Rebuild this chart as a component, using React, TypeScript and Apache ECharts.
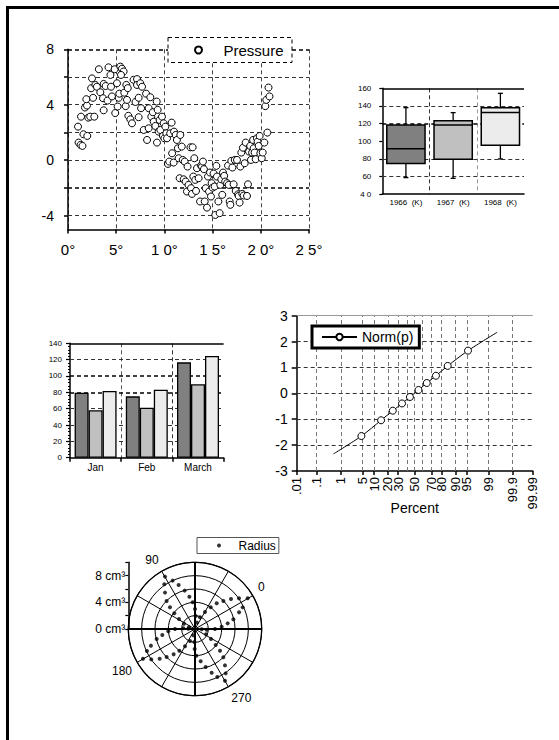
import { useEffect, useRef } from 'react';
import * as echarts from 'echarts';

// ---------- Scatter (Pressure) ----------
const pressureX = [1.04,1.1,1.3,1.5,1.35,1.6,2.0,1.76,1.97,1.9,2.1,2.3,2.4,2.49,2.6,2.73,2.84,3.0,3.2,3.35,3.63,3.7,3.7,3.9,4.1,4.2,4.4,4.46,4.56,4.84,4.9,5.08,5.15,5.26,5.43,5.6,5.77,5.5,5.32,5.84,5.98,6.05,6.12,6.2,6.26,6.47,6.64,6.8,7.0,7.16,7.16,7.33,7.33,7.5,7.68,7.58,7.85,8.1,8.2,8.37,8.54,8.37,8.64,8.8,8.89,9.06,9.2,9.23,9.3,9.4,9.5,9.58,9.75,9.85,9.92,10.0,10.1,10.2,10.27,10.37,10.5,10.6,10.75,10.8,10.96,11.0,11.17,11.3,11.4,11.48,11.58,11.65,11.8,11.9,12.0,12.1,12.2,12.34,12.4,12.5,12.7,12.76,12.86,12.93,13.0,13.1,13.2,13.28,13.38,13.55,13.7,13.8,13.9,14.0,14.1,14.18,14.28,14.42,14.52,14.63,14.73,14.83,14.9,15.0,15.1,15.21,15.28,15.39,15.45,15.6,15.73,15.8,15.9,16.0,16.08,16.2,16.3,16.5,16.6,16.67,16.77,16.84,16.94,17.05,17.18,17.3,17.4,17.53,17.64,17.7,17.8,17.88,17.98,18.08,18.15,18.22,18.33,18.43,18.57,18.67,18.78,18.9,18.98,19.1,19.2,19.26,19.36,19.47,19.6,19.67,19.78,19.88,19.95,20.1,20.2,20.37,20.47,20.57,20.68,20.8,20.9];
const pressureY = [2.42,1.27,1.1,1.03,3.14,1.87,1.75,3.8,3.94,4.4,3.07,3.14,5.19,5.9,4.5,3.14,5.43,5.3,6.56,4.9,4.47,3.6,5.5,5.35,4.3,6.7,6.15,5.3,4.6,6.56,3.4,5.55,3.87,4.5,6.75,6.6,6.4,6.15,4.8,4.87,3.9,5.43,4.35,5.2,3.2,2.95,2.66,5.8,4.2,5.85,5.43,4.5,3.1,5.55,5.3,3.75,2.18,4.8,1.46,3.75,4.54,2.3,3.14,3.46,2.78,2.47,4.23,1.27,3.63,2.06,2.9,2.18,3.14,1.75,2.66,1.58,2.42,1.94,1.58,-0.27,-0.1,1.94,2.71,0.5,-0.17,2.06,1.82,1.46,0.86,0.14,-1.3,1.82,0.98,0.02,-1.38,-0.1,-1.54,-2.26,-0.46,-1.78,0.93,-2.02,-2.43,0.93,-1.18,0.14,-1.42,-2.22,-0.58,-1.3,-2.98,-0.39,-0.46,-0.1,-0.65,-2.98,-2.02,-3.42,-1.18,-2.26,-0.89,-2.62,-1.66,-1.98,-0.96,-1.9,-3.95,-0.41,-1.18,-2.98,-3.82,-1.78,-1.38,-2.5,-0.89,-1.13,-1.54,-1.66,-0.39,-1.78,-2.98,-3.22,-0.05,-0.53,-1.74,0.02,-2.22,0.02,-2.46,-2.58,-3.06,-0.46,0.55,-2.43,0.9,-2.55,-0.22,1.27,-2.58,-1.74,0.62,1.03,0.02,0.55,1.46,0.86,0.55,0.07,1.58,1.34,1.03,1.75,0.5,0.14,0.55,1.27,3.9,4.35,1.99,5.24,4.6];
const scatterXTicks = [0, 5, 10, 15, 20, 25];
const scatterXTickLabels = ['0°', '5°', '1 0°', '1 5°', '2 0°', '2 5°'];
const scatterYTicks = [-4, -2, 0, 2, 4, 6, 8];
const scatterYLabelTicks = [-4, 0, 4, 8];
const scatterGridY = [-4, -2, 0, 2, 4, 6, 8];
const scatterStrongGridY = [-2, 8];

// ---------- Box plot ----------
const boxYears = ['1966  (K)', '1967  (K)', '1968  (K)'];
const boxLow = [58.6, 57.8, 79.8];
const boxQ1 = [74.5, 79.4, 95.3];
const boxMedian = [91.5, 118.4, 132.4];
const boxQ3 = [118.4, 123.3, 138];
const boxHigh = [138, 132.4, 154.3];
const boxYTicks = [40, 60, 80, 100, 120, 140, 160];
const boxYTickLabels = ['4 0', '60', '80', '100', '120', '140', '160'];
const boxGridY = [60, 80, 120, 140];
const boxStrongGridY = [120];
const boxTopY = 160;

// ---------- Bars ----------
const months = ['Jan', 'Feb', 'March'];
const barDark = [79.6, 75.1, 116.7];
const barMid = [58, 61.2, 89.8];
const barLight = [81.6, 83.3, 124.5];
const barGridY = [20, 40, 60, 80, 100, 120];
const barStrongGridY = [80, 100];
const barTopY = 140;

// ---------- Normal probability ----------
const normPercentLabels = ['.01', '.1', '1', '5', '10', '20', '30', '50', '70', '80', '90', '95', '99', '99.9', '99.99'];
const normPercentZ = [-3.719, -3.09, -2.326, -1.645, -1.282, -0.842, -0.524, 0, 0.524, 0.842, 1.282, 1.645, 2.326, 3.09, 3.719];
const normGridZ = [-3.09, -2.326, -1.645, -1.282, -0.842, -0.524, -0.253, 0, 0.253, 0.524, 0.842, 1.282, 1.645, 2.326, 3.09];
const normMarkerX = [-1.68, -1.06, -0.69, -0.4, -0.15, 0.12, 0.38, 0.67, 1.04, 1.68];
const normMarkerY = [-1.65, -1.04, -0.67, -0.39, -0.14, 0.13, 0.4, 0.68, 1.06, 1.65];
const normLineStart = [-2.56, -2.34];
const normLineEnd = [2.6, 2.36];
const normGridY = [-2, -1, 0, 1, 2];

// ---------- Polar ----------
const polarRadius = [9.05,8.13,7.07,5.98,4.96,3.89,2.83,1.83,0.93, 7.99,7.04,5.96,4.92,4.02,3.0,1.95,1.0, 9.14,8.04,7.03,5.98,5.04,4.01,2.96,1.9, 7.85,7.06,5.93,4.97,4.02,3.0,1.75,1.0, 8.96,8.09,7.07,6.01,4.96,3.92,2.83,1.83, 7.94,7.01,5.92,4.92,4.0,3.0,1.95,0.98, 8.98,7.98,6.92,5.98,4.97,4.01,3.0,1.95, 7.92,7.06,5.94,4.98,4.02,3.0,1.75,1.0];
const polarAngle = [89.8,94.5,99.5,105.3,109.1,112.8,118,124.1,134.5, 84.8,80.4,75.1,69.9,65,60,57,42.5, 0.2,4.9,9.8,14.7,19.8,24.1,29.5,36.8, 354.4,350.7,344.2,339.8,335,330,326.7,327, 270.1,274.7,279.5,285,289.1,292.3,298,304.1, 264.9,260.9,255.7,249.9,242.9,239,237,225, 179.7,184.8,190,194.7,199.9,204.1,210,217.4, 174.6,170.7,164.6,160.4,155,150,146.7,147];
const polarAngleLabels = [0, 90, 180, 270];
const radiusLabelTicks = [0, 4, 8];
const polarAxisH = [[10, 150], [10, 330]];
const polarAxisV = [[10, 60], [10, 240]];

const FONT = '"Liberation Sans", Arial, Helvetica, sans-serif';
const BLACK = '#000';
const boxFills = ['#808080', '#c0c0c0', '#ececec'];

const blackLine = { show: true, onZero: false, lineStyle: { color: BLACK, width: 1.5 } };
const labelBase = { color: BLACK, fontFamily: FONT };

function gridMark(items: any[]) {
  return {
    silent: true,
    symbol: ['none', 'none'],
    z: 1,
    animation: false,
    label: { show: false },
    emphasis: { disabled: true },
    data: items,
  };
}
const dashed = (color: string, width: number) => ({ color, width, type: [4, 3] as number[] });
const solid = (color: string, width: number) => ({ color, width, type: 'solid' });

function buildOption() {
  const pressureData = pressureX.map((x, i) => [x, pressureY[i]]);
  const boxData = boxYears.map((_, i) => [i, boxLow[i], boxQ1[i], boxMedian[i], boxQ3[i], boxHigh[i]]);
  const normData: any[] = [
    { value: normLineStart, symbol: 'none' },
    ...normMarkerX.map((x, i) => [x, normMarkerY[i]]),
    { value: normLineEnd, symbol: 'none' },
  ];
  const polarData = polarRadius.map((r, i) => [r, polarAngle[i]]);

  return {
    animation: false,
    backgroundColor: '#fff',
    textStyle: { fontFamily: FONT, color: BLACK },
    graphic: [
      {
        type: 'rect', silent: true, z: 100,
        shape: { x: 7.5, y: 7.5, width: 700, height: 900 },
        style: { fill: 'none', stroke: BLACK, lineWidth: 3 },
      },
      {
        type: 'rect', silent: true, z: 15,
        shape: { x: 168, y: 37.5, width: 124, height: 25 },
        style: { fill: '#fff', stroke: BLACK, lineWidth: 1, lineDash: [4, 3] },
      },
    ],
    legend: [
      {
        data: [{ name: 'Pressure', icon: 'circle' }],
        left: 168, top: 37.5, padding: [5, 9, 5, 26],
        itemWidth: 40, itemHeight: 7, selectedMode: false, z: 20,
        textStyle: { fontSize: 15, color: BLACK, fontFamily: FONT },
      },
      {
        data: ['Norm(p)'],
        left: 312, top: 326, padding: [4, 6, 4, 9],
        itemWidth: 35, itemHeight: 8, selectedMode: false, z: 20,
        backgroundColor: '#fff', borderColor: BLACK, borderWidth: 3,
        textStyle: { fontSize: 14, color: BLACK, fontFamily: FONT },
      },
      {
        data: [{ name: 'Radius', icon: 'circle' }],
        left: 197, top: 537.5, padding: [2, 3, 2, 20],
        itemWidth: 29, itemHeight: 4, selectedMode: false, z: 20,
        backgroundColor: '#fff', borderColor: '#555', borderWidth: 1,
        textStyle: { fontSize: 12, color: BLACK, fontFamily: FONT },
      },
    ],
    grid: [
      { left: 68, top: 49.3, width: 241, height: 180.2, outerBoundsMode: 'none', containLabel: false },
      { left: 382.3, top: 88.3, width: 141.7, height: 105.7, outerBoundsMode: 'none', containLabel: false },
      { left: 70, top: 343.3, width: 153.6, height: 114.4, outerBoundsMode: 'none', containLabel: false },
      { left: 296.7, top: 315.7, width: 236, height: 155.3, outerBoundsMode: 'none', containLabel: false },
      { left: 128.3, top: 562.3, width: 4, height: 66.7, outerBoundsMode: 'none', containLabel: false },
    ],
    xAxis: [
      {
        gridIndex: 0, type: 'value', min: 0, max: 25, interval: 5,
        axisLine: blackLine,
        axisTick: { show: true, length: 4, lineStyle: { color: BLACK, width: 1.5 } },
        axisLabel: {
          ...labelBase, fontSize: 15, margin: 12,
          formatter: (v: number) => {
            const i = scatterXTicks.indexOf(Math.round(v));
            return i >= 0 ? scatterXTickLabels[i] : '';
          },
        },
        splitLine: { show: true, lineStyle: dashed('#444', 1) },
      },
      {
        gridIndex: 1, type: 'category', data: boxYears,
        axisLine: blackLine,
        axisTick: { show: false },
        axisLabel: { ...labelBase, fontSize: 8, margin: 4, interval: 0 },
        splitLine: {
          show: true, interval: 0,
          lineStyle: { color: ['rgba(0,0,0,0)', '#333', '#999', 'rgba(0,0,0,0)'], width: 1, type: [4, 3] },
        },
      },
      {
        gridIndex: 2, type: 'category', data: months,
        axisLine: blackLine,
        axisTick: { show: true, length: 4, interval: 0, lineStyle: { color: BLACK, width: 1.5 } },
        axisLabel: { ...labelBase, fontSize: 10, margin: 5, interval: 0 },
        splitLine: {
          show: true, interval: 0,
          lineStyle: { color: ['rgba(0,0,0,0)', '#555', '#333', 'rgba(0,0,0,0)'], width: 1, type: [4, 3] },
        },
      },
      {
        gridIndex: 3, type: 'value', min: -3.719, max: 3.719,
        axisLine: blackLine,
        axisTick: { show: true, length: 4, customValues: normPercentZ, lineStyle: { color: BLACK, width: 1.5 } },
        axisLabel: {
          ...labelBase, fontSize: 13, margin: 6, rotate: 90, customValues: normPercentZ,
          showMinLabel: true, showMaxLabel: true, hideOverlap: false,
          formatter: (v: number) => {
            let best = -1; let d = 1e9;
            normPercentZ.forEach((z, i) => { const dd = Math.abs(z - v); if (dd < d) { d = dd; best = i; } });
            return d < 0.02 ? normPercentLabels[best] : '';
          },
        },
        splitLine: { show: false },
        name: 'Percent', nameLocation: 'middle', nameGap: 30, nameMoveOverlap: false,
        nameTextStyle: { fontSize: 14, color: BLACK, fontFamily: FONT },
      },
      { gridIndex: 4, type: 'value', min: 0, max: 1, show: false },
    ],
    yAxis: [
      {
        gridIndex: 0, type: 'value', min: -5, max: 8, interval: 1,
        axisLine: blackLine,
        axisTick: { show: true, length: 4, customValues: scatterYTicks, lineStyle: { color: BLACK, width: 1.5 } },
        axisLabel: { ...labelBase, fontSize: 14, margin: 14, customValues: scatterYLabelTicks },
        splitLine: { show: false },
      },
      {
        gridIndex: 1, type: 'value', min: 40, max: 160, interval: 20,
        axisLine: blackLine,
        axisTick: { show: true, length: 3, lineStyle: { color: BLACK, width: 1.2 } },
        axisLabel: {
          ...labelBase, fontSize: 8, margin: 11,
          formatter: (v: number) => {
            const i = boxYTicks.indexOf(Math.round(v));
            return i >= 0 ? boxYTickLabels[i] : '';
          },
        },
        splitLine: { show: false },
      },
      {
        gridIndex: 2, type: 'value', min: 0, max: 140, interval: 20,
        axisLine: blackLine,
        axisTick: { show: true, length: 4, lineStyle: { color: BLACK, width: 1.2 } },
        minorTick: { show: true, splitNumber: 5, length: 2, lineStyle: { color: BLACK, width: 1 } },
        axisLabel: { ...labelBase, fontSize: 8, margin: 8 },
        splitLine: { show: false },
      },
      {
        gridIndex: 3, type: 'value', min: -3, max: 3, interval: 1,
        axisLine: blackLine,
        axisTick: { show: true, length: 5, lineStyle: { color: BLACK, width: 1.5 } },
        axisLabel: { ...labelBase, fontSize: 14, margin: 9 },
        splitLine: { show: false },
      },
      {
        gridIndex: 4, type: 'value', min: 0, max: 10, interval: 2, position: 'left',
        axisLine: blackLine,
        axisTick: { show: true, length: 3, lineStyle: { color: BLACK, width: 1.2 } },
        axisLabel: { ...labelBase, fontSize: 12, margin: 3, customValues: radiusLabelTicks, formatter: (v: number) => `${v} cm³` },
        splitLine: { show: false },
      },
    ],
    polar: { center: [195, 629], radius: 66.7 },
    angleAxis: {
      type: 'value', min: 0, max: 360, interval: 30, startAngle: 30, clockwise: false,
      axisLine: { show: true, lineStyle: { color: BLACK, width: 1.3 } },
      axisTick: { show: false },
      axisLabel: {
        ...labelBase, fontSize: 12, margin: 6,
        formatter: (v: number) => (polarAngleLabels.indexOf(Math.round(v)) >= 0 ? String(Math.round(v)) : ''),
      },
      splitLine: { show: true, lineStyle: { color: BLACK, width: 1 } },
    },
    radiusAxis: {
      type: 'value', min: 0, max: 10, interval: 2,
      axisLine: { show: false }, axisTick: { show: false }, axisLabel: { show: false },
      splitLine: { show: true, lineStyle: { color: BLACK, width: 1 } },
    },
    series: [
      {
        name: 'Pressure', type: 'scatter', xAxisIndex: 0, yAxisIndex: 0,
        symbol: 'circle', symbolSize: 7,
        itemStyle: { color: '#fff', borderColor: BLACK, borderWidth: 1, opacity: 1 },
        data: pressureData,
        markLine: gridMark([
          ...scatterGridY.map((v) => ({
            yAxis: v,
            lineStyle: scatterStrongGridY.includes(v) ? dashed('#000', 1.6) : dashed('#333', 1),
          })),
        ]),
      },
      {
        name: 'Box', type: 'custom', xAxisIndex: 1, yAxisIndex: 1,
        encode: { x: 0, y: [1, 2, 3, 4, 5] },
        data: boxData,
        renderItem: (params: any, api: any) => {
          const idx = api.value(0);
          const lowP = api.coord([idx, api.value(1)]);
          const q1P = api.coord([idx, api.value(2)]);
          const medP = api.coord([idx, api.value(3)]);
          const q3P = api.coord([idx, api.value(4)]);
          const highP = api.coord([idx, api.value(5)]);
          const band = api.size([1, 0])[0];
          const w = band * 0.81;
          const x = medP[0];
          const ln = { stroke: BLACK, lineWidth: 1.3 };
          return {
            type: 'group',
            children: [
              { type: 'line', shape: { x1: x, y1: highP[1], x2: x, y2: q3P[1] }, style: ln },
              { type: 'line', shape: { x1: x - 2.5, y1: highP[1], x2: x + 2.5, y2: highP[1] }, style: ln },
              { type: 'line', shape: { x1: x, y1: q1P[1], x2: x, y2: lowP[1] }, style: ln },
              { type: 'line', shape: { x1: x - 2.5, y1: lowP[1], x2: x + 2.5, y2: lowP[1] }, style: ln },
              {
                type: 'rect',
                shape: { x: x - w / 2, y: q3P[1], width: w, height: q1P[1] - q3P[1] },
                style: { fill: boxFills[params.dataIndex % boxFills.length], stroke: BLACK, lineWidth: 1.5 },
              },
              { type: 'line', shape: { x1: x - w / 2, y1: medP[1], x2: x + w / 2, y2: medP[1] }, style: { stroke: BLACK, lineWidth: 1.5 } },
            ],
          };
        },
        markLine: gridMark([
          ...boxGridY.map((v) => ({
            yAxis: v,
            lineStyle: boxStrongGridY.includes(v) ? dashed('#000', 1.6) : dashed('#333', 1),
          })),
          { yAxis: boxTopY, lineStyle: solid('#000', 1.5) },
        ]),
      },
      {
        name: 'Dark', type: 'bar', xAxisIndex: 2, yAxisIndex: 2, data: barDark,
        barGap: '0%', barCategoryGap: '18%',
        itemStyle: { color: boxFills[0], borderColor: BLACK, borderWidth: 1.3 },
        markLine: gridMark([
          ...barGridY.map((v) => ({
            yAxis: v,
            lineStyle: barStrongGridY.includes(v) ? dashed('#000', 1.6) : dashed('#333', 1),
          })),
          { yAxis: barTopY, lineStyle: solid('#000', 1.5) },
        ]),
      },
      {
        name: 'Mid', type: 'bar', xAxisIndex: 2, yAxisIndex: 2, data: barMid,
        barGap: '0%', barCategoryGap: '18%',
        itemStyle: { color: boxFills[1], borderColor: BLACK, borderWidth: 1.3 },
      },
      {
        name: 'Light', type: 'bar', xAxisIndex: 2, yAxisIndex: 2, data: barLight,
        barGap: '0%', barCategoryGap: '18%',
        itemStyle: { color: boxFills[2], borderColor: BLACK, borderWidth: 1.3 },
      },
      {
        name: 'Norm(p)', type: 'line', xAxisIndex: 3, yAxisIndex: 3,
        smooth: 0.3, symbol: 'circle', symbolSize: 7, showSymbol: true,
        lineStyle: { color: BLACK, width: 1 },
        itemStyle: { color: '#fff', borderColor: BLACK, borderWidth: 1 },
        data: normData,
        markLine: gridMark([
          ...normGridZ.map((z) => ({ xAxis: z, lineStyle: dashed('#777', 1) })),
          { xAxis: 3.719, lineStyle: solid('#888', 1.5) },
          ...normGridY.map((v) => ({ yAxis: v, lineStyle: dashed('#333', 1) })),
          { yAxis: 3, lineStyle: solid('#999', 1) },
        ]),
      },
      {
        name: 'axisH', type: 'line', coordinateSystem: 'polar', polarIndex: 0,
        data: polarAxisH, symbol: 'none', silent: true,
        lineStyle: { color: BLACK, width: 2 }, z: 3,
      },
      {
        name: 'axisV', type: 'line', coordinateSystem: 'polar', polarIndex: 0,
        data: polarAxisV, symbol: 'none', silent: true,
        lineStyle: { color: BLACK, width: 2 }, z: 3,
      },
      {
        name: 'Radius', type: 'scatter', coordinateSystem: 'polar', polarIndex: 0,
        symbol: 'circle', symbolSize: 4,
        itemStyle: { color: BLACK },
        data: polarData, z: 4,
      },
    ],
  };
}

export default function App() {
  const ref = useRef<HTMLDivElement>(null);
  useEffect(() => {
    if (!ref.current) return;
    const chart = echarts.init(ref.current, null, { renderer: 'svg' });
    chart.setOption(buildOption() as any);
    return () => chart.dispose();
  }, []);
  return (
    <div
      ref={ref}
      style={{ position: 'absolute', left: 0, top: 0, width: 559, height: 740, background: '#fff' }}
    />
  );
}
